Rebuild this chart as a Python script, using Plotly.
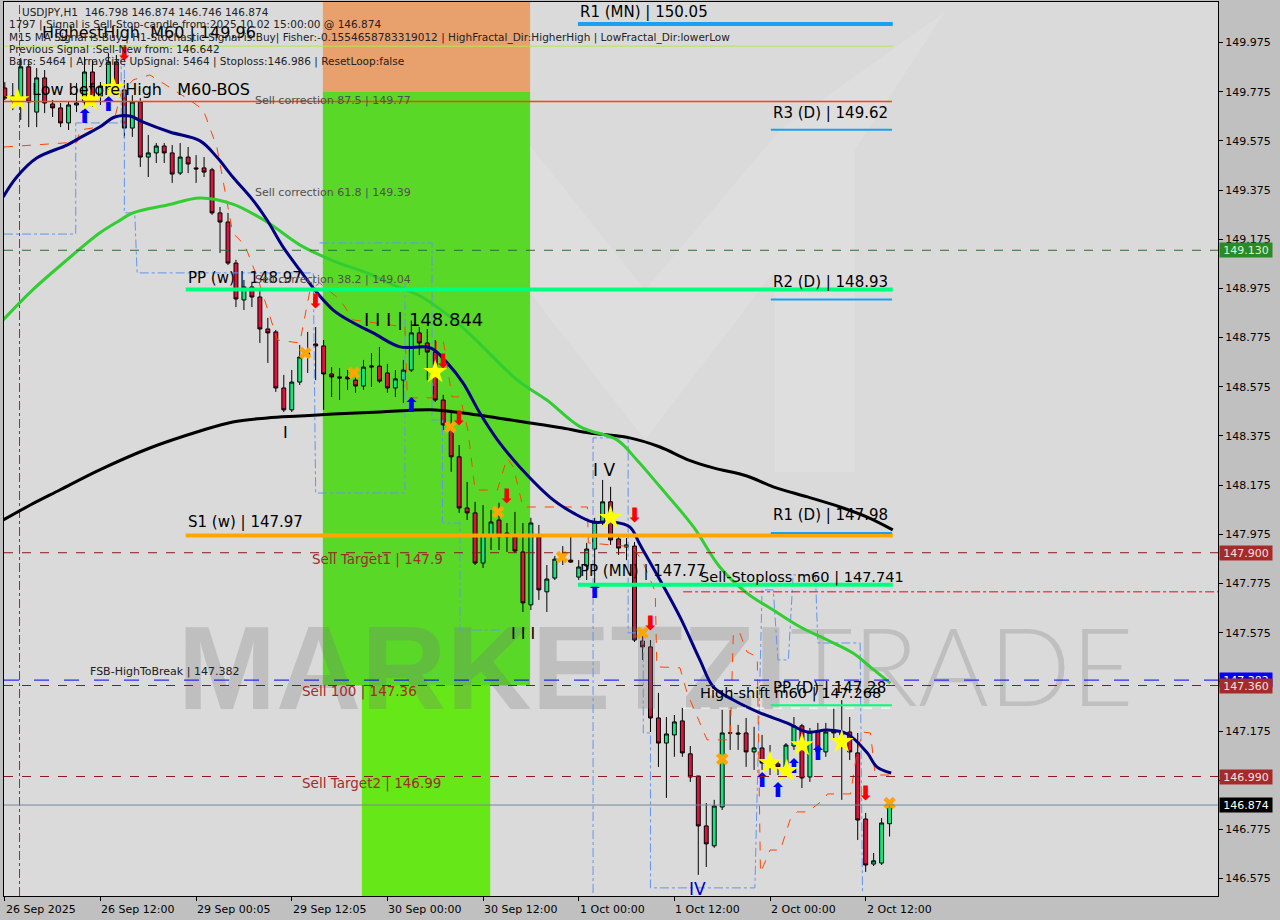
import plotly.graph_objects as go

# ---------------- data ----------------
bar_index = list(range(112))
open_ = [149.790,149.741,149.753,149.876,149.692,149.831,149.725,149.709,149.648,149.721,
         149.733,149.855,149.757,149.794,149.896,149.782,149.627,149.733,149.509,149.526,
         149.554,149.526,149.444,149.509,149.465,149.465,149.457,149.282,149.245,149.078,
         148.928,148.981,148.940,148.810,148.798,148.570,148.481,148.594,148.704,148.749,
         148.741,148.627,148.615,148.615,148.602,148.578,148.655,148.659,148.631,148.570,
         148.602,148.643,148.794,148.753,148.716,148.521,148.412,148.290,148.082,148.062,
         147.858,147.972,148.033,147.980,147.964,147.903,147.688,147.964,147.741,147.797,
         147.883,147.870,147.801,147.846,147.915,148.025,148.107,147.956,147.923,147.927,
         147.541,147.517,147.228,147.126,147.159,147.216,147.082,146.992,146.789,146.708,
         146.866,147.167,147.167,147.167,147.090,147.106,147.045,147.041,147.029,147.114,
         147.196,146.988,147.171,147.090,147.179,147.167,147.171,147.086,146.817,146.634,
         146.638,146.798]
high_ = [149.814,149.810,149.912,149.904,149.871,149.863,149.741,149.729,149.733,149.810,
         149.916,149.904,149.814,149.932,149.924,149.822,149.761,149.749,149.599,149.566,
         149.566,149.558,149.566,149.550,149.517,149.509,149.465,149.306,149.282,149.091,
         149.009,148.997,148.969,148.855,148.806,148.623,148.643,148.745,148.798,148.818,
         148.765,148.655,148.651,148.643,148.643,148.684,148.712,148.737,148.668,148.643,
         148.684,148.844,148.818,148.810,148.765,148.542,148.481,148.338,148.188,148.107,
         148.094,148.074,148.103,148.021,148.066,148.021,148.042,148.013,147.850,147.887,
         147.927,147.972,147.870,147.940,148.042,148.196,148.168,147.972,147.960,147.944,
         147.586,147.545,147.330,147.232,147.240,147.269,147.114,146.992,146.882,146.895,
         147.261,147.261,147.200,147.228,147.192,147.159,147.118,147.057,147.126,147.232,
         147.204,147.187,147.208,147.208,147.269,147.301,147.232,147.167,146.842,146.679,
         146.821,146.874]
low_ = [149.741,149.700,149.660,149.631,149.631,149.688,149.672,149.631,149.619,149.692,
        149.672,149.713,149.721,149.782,149.761,149.587,149.591,149.469,149.428,149.485,
        149.485,149.404,149.436,149.444,149.404,149.428,149.274,149.119,149.070,148.899,
        148.887,148.899,148.753,148.672,148.554,148.472,148.472,148.582,148.631,148.602,
        148.481,148.533,148.521,148.562,148.550,148.562,148.574,148.590,148.550,148.533,
        148.509,148.635,148.704,148.602,148.513,148.399,148.229,148.062,148.033,147.850,
        147.838,147.911,147.911,147.903,147.899,147.659,147.667,147.708,147.659,147.789,
        147.850,147.858,147.789,147.789,147.769,148.013,147.932,147.891,147.870,147.537,
        147.464,147.171,147.029,146.903,147.070,147.070,146.968,146.590,146.622,146.700,
        146.854,147.098,147.098,147.029,147.017,147.017,146.996,146.996,147.009,147.098,
        146.943,146.968,147.070,147.070,147.139,146.895,147.057,146.732,146.602,146.626,
        146.630,146.746]
close_ = [149.749,149.757,149.876,149.733,149.831,149.729,149.709,149.648,149.721,149.729,
          149.855,149.733,149.798,149.896,149.782,149.627,149.733,149.509,149.526,149.554,
          149.526,149.440,149.509,149.481,149.461,149.448,149.282,149.245,149.078,148.932,
          148.981,148.940,148.810,148.794,148.570,148.481,148.594,148.696,148.712,148.741,
          148.627,148.615,148.611,148.607,148.578,148.655,148.659,148.598,148.570,148.607,
          148.643,148.794,148.753,148.716,148.521,148.420,148.290,148.082,148.062,147.858,
          147.972,148.025,147.964,147.964,147.907,147.696,148.021,147.749,147.793,147.874,
          147.887,147.862,147.842,147.915,148.025,148.107,147.952,147.919,147.932,147.545,
          147.517,147.228,147.126,147.163,147.212,147.086,146.988,146.789,146.716,146.870,
          147.167,147.167,147.163,147.090,147.106,147.045,147.033,147.029,147.118,147.196,
          146.984,147.171,147.090,147.171,147.167,147.159,147.090,146.813,146.630,146.647,
          146.801,146.874]

x_tick_index = [0, 12, 24, 36, 48, 60, 72, 84, 96, 108]
x_tick_labels = ["26 Sep 2025", "26 Sep 12:00", "29 Sep 00:05", "29 Sep 12:05", "30 Sep 00:00",
                 "30 Sep 12:00", "1 Oct 00:00", "1 Oct 12:00", "2 Oct 00:00", "2 Oct 12:00"]
y_tick_values = [149.975, 149.775, 149.575, 149.375, 149.175, 148.975, 148.775, 148.575, 148.375,
                 148.175, 147.975, 147.775, 147.575, 147.375, 147.175, 146.975, 146.775, 146.575]

# moving averages (read points)
ma_fast_x = [-0.2,1.5,4.0,7.8,9.4,11.9,13.8,15.7,17.3,20.7,24.5,26.6,28.6,31.1,32.9,34.9,37.0,39.2,
             41.2,43.7,46.2,49.6,53.4,55.5,57.5,59.6,61.8,64.6,68.8,71.3,73.8,76.3,78.4,79.7,82.2,
             84.7,87.2,88.9,91.4,94.8,98.1,100.7,103.2,105.7,108.2,109.4,111.2]
ma_fast_y = [149.347,149.428,149.505,149.558,149.587,149.631,149.672,149.676,149.652,149.611,
             149.575,149.509,149.428,149.335,149.253,149.144,149.050,148.956,148.887,148.835,
             148.794,148.737,148.733,148.672,148.590,148.468,148.359,148.249,148.115,148.062,
             148.025,148.025,148.005,147.932,147.789,147.639,147.464,147.354,147.301,147.248,
             147.208,147.171,147.179,147.163,147.086,147.029,147.004]
ma_mid_x = [-0.2,3.5,7.8,11.9,14.1,16.1,20.4,24.5,28.6,32.9,37.0,41.2,45.4,49.6,52.1,57.1,64.3,
            68.0,72.2,76.8,79.3,82.2,86.4,89.7,93.1,96.4,99.8,103.2,106.4,108.6,111.1]
ma_mid_y = [148.847,148.969,149.091,149.200,149.245,149.282,149.314,149.343,149.318,149.245,
            149.152,149.087,149.038,148.977,148.944,148.826,148.602,148.521,148.412,148.359,
            148.277,148.168,148.005,147.842,147.736,147.667,147.598,147.545,147.492,147.435,147.370]
ma_slow_x = [-0.2,3.2,6.9,11.9,18.2,24.5,28.6,32.9,37.0,41.2,47.1,53.4,57.5,61.8,65.9,70.0,73.4,
             78.4,82.2,85.8,88.9,93.1,96.4,100.7,104.8,108.2,111.4]
ma_slow_y = [148.033,148.094,148.155,148.237,148.326,148.395,148.432,148.448,148.456,148.464,
             148.472,148.481,148.468,148.448,148.428,148.407,148.387,148.367,148.330,148.277,
             148.245,148.212,148.168,148.127,148.086,148.045,147.993]

# trailing (orange dashed) line
trail_x = [-0.1,9.06,9.4,11.9,13.8,14.5,16.1,18.2,23.2,24.9,26.6,28.6,30.1,31.8,34.2,37.0,38.3,39.5,
           42.1,43.7,50.2,50.5,53.7,54.2,55.0,56.1,57.1,58.1,59.0,61.8,63.0,63.8,65.0,73.1,73.2,
           78.8,80.1,81.6,81.8,84.7,85.6,88.1,91.0,91.4,92.2,93.1,94.4,94.8,96.0,97.3,98.5,99.4,
           100.7,102.7,103.2,106.1,106.9,107.6,108.6,109.2,111.1]
trail_y = [149.550,149.570,149.619,149.632,149.668,149.762,149.823,149.843,149.741,149.701,
           149.550,149.200,149.152,149.009,148.765,148.753,148.969,148.997,148.928,148.847,
           148.818,148.530,148.530,148.765,148.765,148.534,148.534,148.399,148.155,148.155,
           148.285,148.249,148.086,148.086,147.940,147.924,147.858,147.741,147.436,147.432,
           147.330,147.139,147.139,147.574,147.574,147.497,147.476,146.598,146.691,146.691,
           146.813,146.846,146.846,146.895,146.919,146.919,147.086,147.171,147.167,146.996,146.996]

# channel (blue dash-dot step line)
chan_x = [-0.1,8.9,8.9,14.6,14.6,None,15.0,15.0,16.3,16.6,38.7,39.0,50.2,50.2,None,
          39.5,53.6,53.6,54.9,54.9,57.1,57.1,62.4,None,
          73.8,73.8,78.2,78.2,80.1,80.1,81.0,81.0,94.1,95.0,96.4,97.0,98.3,98.9,101.7,102.0,107.3,107.6]
chan_y = [149.196,149.196,149.648,149.648,149.937,None,149.937,149.282,149.282,149.038,149.038,
          148.143,148.143,149.009,None,
          149.160,149.160,148.440,148.440,148.021,148.021,147.586,147.586,None,
          146.516,148.367,148.367,147.574,147.574,147.167,147.167,146.537,146.537,147.749,147.749,
          147.464,147.464,147.810,147.810,147.533,147.533,146.516]

# signal markers
buy_arrow_x = [10, 13, 51, 74, 95, 97, 99, 102]
buy_arrow_y = [149.668, 149.717, 148.493, 147.736, 146.968, 146.927, 147.025, 147.078]
sell_arrow_x = [15, 39, 55, 57, 63, 79, 81, 108]
sell_arrow_y = [149.924, 148.916, 148.672, 148.440, 148.123, 148.046, 147.606, 146.915]
star_x = [1.6, 10.7, 13.6, 54, 76, 96, 98.1, 100, 105]
star_y = [149.741, 149.741, 149.790, 148.635, 148.042, 147.045, 147.013, 147.118, 147.131]
cross_x = [37.7, 43.8, 55.9, 61.9, 69.9, 80, 90, 111]
cross_y = [148.712, 148.631, 148.411, 148.066, 147.883, 147.574, 147.061, 146.882]

# levels
full_dash_levels = [149.130, 147.900, 147.360, 146.990]
fsb_level = 147.382
last_price = 146.874
highest_high = 149.96
sell_corr_line = 149.735

FONT = "DejaVu Sans"
X_RANGE = [-0.1, 152.2]
Y_RANGE = [146.504, 150.1397]

fig = go.Figure()

# watermark text (behind everything)
fig.add_trace(go.Scatter(x=[21.7], y=[147.385], mode="text", text=["MARKETZI"],
                         textposition="middle right", hoverinfo="skip",
                         textfont=dict(family="Liberation Sans", size=118, weight="bold",
                                       color="rgba(120,120,120,0.27)")))
fig.add_trace(go.Scatter(x=[98.5], y=[147.385], mode="text", text=["TRADE"],
                         textposition="middle right", hoverinfo="skip",
                         textfont=dict(family="Lato", size=108, weight=300,
                                       color="rgba(130,130,130,0.30)")))

# channel and trailing lines
fig.add_trace(go.Scatter(x=chan_x, y=chan_y, mode="lines", hoverinfo="skip",
                         line=dict(color="#6495ED", width=1, dash="dashdot")))
fig.add_trace(go.Scatter(x=trail_x, y=trail_y, mode="lines", hoverinfo="skip",
                         line=dict(color="#FF4500", width=1, dash="dash")))

# moving averages
fig.add_trace(go.Scatter(x=ma_slow_x, y=ma_slow_y, mode="lines", line_shape="spline",
                         line=dict(color="#000000", width=3), hoverinfo="skip"))
fig.add_trace(go.Scatter(x=ma_mid_x, y=ma_mid_y, mode="lines", line_shape="spline",
                         line=dict(color="#32CD32", width=3), hoverinfo="skip"))
fig.add_trace(go.Scatter(x=ma_fast_x, y=ma_fast_y, mode="lines", line_shape="spline",
                         line=dict(color="#000080", width=3), hoverinfo="skip"))

# candles
fig.add_trace(go.Candlestick(
    x=bar_index, open=open_, high=high_, low=low_, close=close_,
    increasing=dict(line=dict(color="#000000", width=1), fillcolor="#14E57D"),
    decreasing=dict(line=dict(color="#000000", width=1), fillcolor="#DC143C"),
    whiskerwidth=0, hoverinfo="skip"))

# markers
fig.add_trace(go.Scatter(x=buy_arrow_x, y=buy_arrow_y, mode="text", hoverinfo="skip",
                         text=["⬆"] * len(buy_arrow_x),
                         textfont=dict(family="DejaVu Sans", size=20, color="#0000FF")))
fig.add_trace(go.Scatter(x=sell_arrow_x, y=sell_arrow_y, mode="text", hoverinfo="skip",
                         text=["⬇"] * len(sell_arrow_x),
                         textfont=dict(family="DejaVu Sans", size=20, color="#FF0000")))
fig.add_trace(go.Scatter(x=star_x, y=star_y, mode="markers", hoverinfo="skip",
                         marker=dict(symbol="star", size=18, color="#FFFF00", line=dict(width=0))))
fig.add_trace(go.Scatter(x=cross_x, y=cross_y, mode="markers", hoverinfo="skip",
                         marker=dict(symbol="x", size=11, color="#FFA500", line=dict(width=0))))

# --------- decorative background regions (positions in plot pixels) ---------
def px(xp, yp):
    return (xp - 4) / 1214.0, 1 - (yp - 2) / 894.0

shapes = []
shapes.append(dict(type="rect", xref="x", yref="paper", x0=39.9, x1=65.9, y0=px(0, 92)[1], y1=1,
                   fillcolor="#E8A06C", line=dict(width=0), layer="below"))
shapes.append(dict(type="rect", xref="x", yref="y", x0=39.9, x1=65.9, y0=147.36, y1=149.774,
                   fillcolor="#5AD828", line=dict(width=0), layer="below"))
shapes.append(dict(type="rect", xref="x", yref="paper", x0=44.8, x1=60.9, y0=0, y1=px(0, 685)[1],
                   fillcolor="#66E818", line=dict(width=0), layer="below"))
# M logo watermark
logo = [(437, 472), (437, 123), (512, 123), (645, 290), (780, 130), (945, 12), (855, 150),
        (855, 472), (775, 472), (775, 270), (645, 440), (512, 270), (512, 472)]
path = "M " + " L ".join("%.4f,%.4f" % px(a, b) for a, b in logo) + " Z"
shapes.append(dict(type="path", xref="paper", yref="paper", path=path,
                   fillcolor="rgba(255,255,255,0.11)", line=dict(width=0), layer="below"))

# vertical dash-dot marker line
shapes.append(dict(type="line", xref="x", yref="paper", x0=1.85, x1=1.85, y0=0, y1=1,
                   line=dict(color="#C8143C", width=1, dash="dashdot"), layer="below"))

# full width dashed levels
level_colors = ["#2E6B2E", "#8B1A1A", "#8B1A1A", "#8B1A1A"]
for lv, c in zip(full_dash_levels, level_colors):
    shapes.append(dict(type="line", xref="paper", yref="y", x0=0, x1=1, y0=lv, y1=lv,
                       line=dict(color=c, width=1, dash="dash")))
shapes.append(dict(type="line", xref="paper", yref="y", x0=0, x1=1, y0=fsb_level, y1=fsb_level,
                   line=dict(color="#0000FF", width=1, dash="longdash")))
shapes.append(dict(type="line", xref="paper", yref="y", x0=0, x1=1, y0=last_price, y1=last_price,
                   line=dict(color="#778899", width=1)))
shapes.append(dict(type="line", xref="x", yref="y", x0=-1, x1=111.4, y0=highest_high, y1=highest_high,
                   line=dict(color="#B5E655", width=1)))
shapes.append(dict(type="line", xref="x", yref="y", x0=-1, x1=111.3, y0=sell_corr_line, y1=sell_corr_line,
                   line=dict(color="#FF4500", width=1.5)))
shapes.append(dict(type="line", xref="x", yref="y", x0=85.1, x1=153, y0=147.741, y1=147.741,
                   line=dict(color="#FF0000", width=1, dash="dashdot")))
shapes.append(dict(type="line", xref="x", yref="y", x0=85.1, x1=111.4, y0=147.268, y1=147.268,
                   line=dict(color="#FFFFFF", width=1, dash="dash")))

# pivot segments
pivots = [
    (71.9, 111.4, 150.05, "#1AA0F0", 4),
    (96.1, 111.3, 149.62, "#1AA0F0", 2),
    (96.1, 111.3, 148.93, "#1AA0F0", 2),
    (22.7, 111.4, 148.97, "#00FF7F", 4),
    (22.7, 111.4, 147.97, "#FFA500", 4),
    (96.1, 111.3, 147.98, "#1AA0F0", 2),
    (71.9, 111.4, 147.77, "#00FF7F", 4),
    (96.1, 111.3, 147.28, "#00FF7F", 2),
]
for x0, x1, lv, c, w in pivots:
    shapes.append(dict(type="line", xref="x", yref="y", x0=x0, x1=x1, y0=lv, y1=lv,
                       line=dict(color=c, width=w)))

fig.update_layout(shapes=shapes)

# --------- text labels ---------
def label(xi, yp, text, size=15, color="#000000"):
    fig.add_annotation(x=xi, y=yp, xref="x", yref="y", text=text, showarrow=False,
                       xanchor="left", yanchor="middle",
                       font=dict(family=FONT, size=size, color=color))

label(71.9, 150.099, "R1 (MN) | 150.05")
label(96.1, 149.688, "R3 (D) | 149.62")
label(96.1, 149.001, "R2 (D) | 148.93")
label(96.1, 148.054, "R1 (D) | 147.98")
label(96.1, 147.350, "PP (D) | 147.28")
label(22.7, 149.017, "PP (w) | 148.97")
label(22.7, 148.025, "S1 (w) | 147.97")
label(71.9, 147.826, "PP (MN) | 147.77")
label(31.1, 149.741, "Sell correction 87.5 | 149.77", 11, "#505050")
label(31.1, 149.363, "Sell correction 61.8 | 149.39", 11, "#505050")
label(31.1, 149.013, "Sell correction 38.2 | 149.04", 11, "#505050")
label(38.3, 147.871, "Sell Target1 | 147.9", 13.5, "#A52A2A")
label(37.0, 147.334, "Sell 100 | 147.36", 13.5, "#A52A2A")
label(37.0, 146.960, "Sell Target2 | 146.99", 13.5, "#A52A2A")
label(10.4, 147.415, "FSB-HighToBreak | 147.382", 11, "#202020")
label(87.0, 147.798, "Sell-Stoploss m60 | 147.741", 14.5)
label(87.0, 147.326, "High-shift m60 | 147.268", 14.5)
label(44.8, 148.847, "I I I | 148.844", 18)
label(34.6, 148.387, "I", 16)
label(73.6, 148.237, "I V", 17)
label(63.3, 147.570, "I I I", 16)
label(85.6, 146.533, "IV", 17, "#0000CD")
label(4.4, 150.014, "HighestHigh  M60 | 149.96", 16)
label(3.2, 149.782, "Low before High   M60-BOS", 16)

info_lines = [
    (20, 12, "USDJPY,H1  146.798 146.874 146.746 146.874"),
    (7, 25, "1797 | Signal is Sell-Stop-candle from:2025.10.02 15:00:00 @ 146.874"),
    (7, 37, "M15 MA Signal is:Buy | H1-Stochastic Signal is:Buy| Fisher:-0.1554658783319012 | "
            "HighFractal_Dir:HigherHigh | LowFractal_Dir:lowerLow"),
    (7, 49, "Previous Signal :Sell-New from: 146.642"),
    (7, 61, "Bars: 5464 | ArraySize UpSignal: 5464 | Stoploss:146.986 | ResetLoop:false"),
]
for xp, yp, t in info_lines:
    pxp, pyp = px(xp, yp)
    fig.add_annotation(x=pxp, y=pyp, xref="paper", yref="paper", text=t, showarrow=False,
                       xanchor="left", yanchor="middle",
                       font=dict(family=FONT, size=10.5, color="#222222"))

# right axis price boxes
boxes = [
    (149.130, "149.130", "#2A8A2A", "#D8F5D8"),
    (147.900, "147.900", "#A52A2A", "#F5E0E0"),
    (147.382, "147.382", "#0000FF", "#FFFFFF"),
    (147.360, "147.360", "#A52A2A", "#F5E0E0"),
    (146.990, "146.990", "#A52A2A", "#F5E0E0"),
    (146.874, "146.874", "#000000", "#FFFFFF"),
]
for yv, t, bg, fc in boxes:
    fig.add_annotation(x=1, y=yv, xref="paper", yref="y", text=t, showarrow=False,
                       xanchor="left", yanchor="middle", xshift=1, bgcolor=bg, width=52,
                       height=14, borderpad=0, align="center",
                       font=dict(family=FONT, size=11, color=fc))

# bottom time labels (left aligned at ticks like MT4)
for xi, t in zip(x_tick_index, x_tick_labels):
    fig.add_annotation(x=xi, y=0, xref="x", yref="paper", text=t, showarrow=False,
                       xanchor="left", yanchor="top", yshift=-5, xshift=-1,
                       font=dict(family=FONT, size=11, color="#000000"))

fig.update_layout(
    width=1280, height=920,
    margin=dict(l=4, r=62, t=2, b=24),
    paper_bgcolor="#C0C0C0", plot_bgcolor="#DADADA",
    showlegend=False,
    xaxis=dict(range=X_RANGE, showgrid=False, zeroline=False, rangeslider=dict(visible=False),
               tickvals=x_tick_index, ticktext=[""] * len(x_tick_index), ticks="outside",
               ticklen=4, tickcolor="#000000", showline=True, linecolor="#000000", mirror=True,
               linewidth=1),
    yaxis=dict(range=Y_RANGE, side="right", showgrid=False, zeroline=False,
               tickvals=y_tick_values, ticktext=["%.3f" % v for v in y_tick_values],
               ticks="outside", ticklen=4, tickcolor="#000000",
               tickfont=dict(family=FONT, size=11, color="#000000"),
               showline=True, linecolor="#000000", mirror=True, linewidth=1),
    hovermode=False,
)

fig.write_html("out.html", config={"displayModeBar": False},
               post_script="document.body.style.margin='0px';document.body.style.overflow='hidden';")
